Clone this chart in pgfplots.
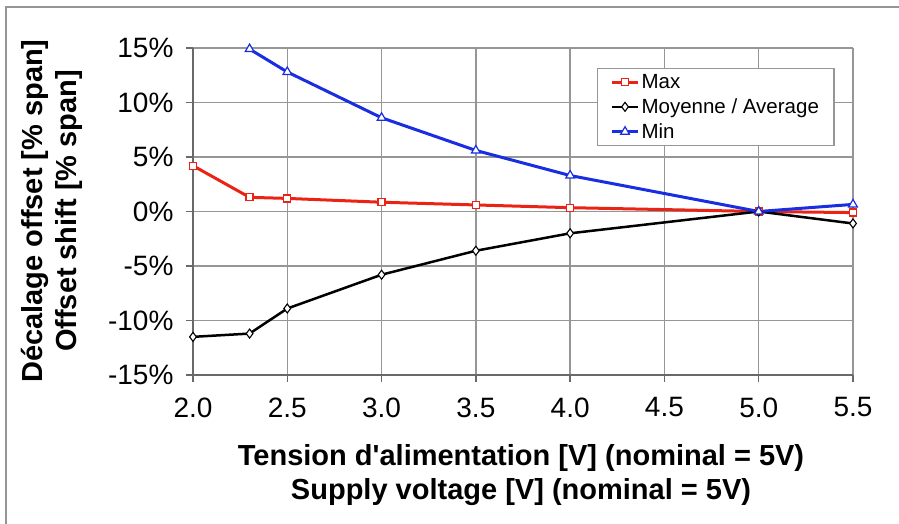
\documentclass[border=0pt]{standalone}
\usepackage{fontspec}
\setmainfont{Liberation Sans}
\usepackage{pgfplots}
\pgfplotsset{compat=1.18}

\definecolor{cmax}{RGB}{235,35,20}
\definecolor{cmin}{RGB}{25,45,225}
\definecolor{gridc}{RGB}{150,150,150}
\definecolor{axc}{RGB}{105,105,105}

\begin{document}
\begin{tikzpicture}[x=1pt,y=1pt]
\path[use as bounding box] (0,0) rectangle (899,524);
% outer chart frame (cut at right and bottom)
\draw[gridc, line width=1.8pt] (6,0) -- (6,517) -- (899,517);

\begin{axis}[
  at={(193pt,149pt)}, anchor=south west, scale only axis,
  width=660pt, height=327pt,
  xmin=2, xmax=5.5, ymin=-15, ymax=15,
  xtick={2,2.5,3,3.5,4,4.5,5,5.5},
  ytick={-15,-10,-5,0,5,10,15},
  axis lines=left, axis line style={-, axc, line width=1.5pt},
  grid=major, grid style={gridc, line width=1.4pt},
  tick align=outside, major tick length=7pt,
  tick style={axc, line width=1.3pt},
  /pgf/number format/assume math mode=true,
  xticklabel={\pgfmathprintnumber[fixed,fixed zerofill,precision=1]{\tick}},
  yticklabel={\pgfmathprintnumber{\tick}\%},
  tick label style={font=\fontsize{28}{30}\selectfont},
  xticklabel style={yshift=-12pt},
  yticklabel style={xshift=-9pt},
  clip=false,
  legend style={at={(0.612,0.939)}, anchor=north west, draw=gridc,
    line width=1.2pt, font=\fontsize{20.5}{22}\selectfont,
    inner xsep=13pt, inner ysep=4pt, row sep=4.5pt, cells={anchor=west}},
  legend image code/.code={\draw[mark repeat=2,mark phase=2,#1]
    plot coordinates {(0pt,0pt)(13pt,0pt)(26pt,0pt)};},
]
%% Max
\addplot[cmax, line width=3pt, mark=square*, mark size=3.5pt,
  mark options={fill=white, draw=cmax, line width=1.2pt, solid}]
  coordinates{(2.0,4.2)(2.3,1.3)(2.5,1.2)(3.0,0.85)(3.5,0.6)(4.0,0.35)(5.0,0.0)(5.5,-0.1)};
\addlegendentry{Max}
%% Moyenne / Average
\addplot[black, line width=2.5pt, mark=diamond*, mark size=4.5pt,
  mark options={fill=white, draw=black, line width=1.1pt, solid}]
  coordinates{(2.0,-11.5)(2.3,-11.2)(2.5,-8.9)(3.0,-5.8)(3.5,-3.6)(4.0,-2.0)(5.0,0.0)(5.5,-1.1)};
\addlegendentry{Moyenne / Average}
%% Min
\addplot[cmin, line width=3pt, mark=triangle*, mark size=5pt,
  mark options={fill=white, draw=cmin, line width=1.2pt, solid}]
  coordinates{(2.3,14.9)(2.5,12.8)(3.0,8.6)(3.5,5.6)(4.0,3.3)(5.0,0.0)(5.5,0.65)};
\addlegendentry{Min}
\end{axis}

\node[rotate=90, align=center, font=\bfseries\fontsize{29}{34}\selectfont]
  at (52,313) {Décalage offset [\% span]\\Offset shift [\% span]};
\node[align=center, font=\bfseries\fontsize{29}{34}\selectfont]
  at (521,49) {Tension d\textquotesingle alimentation [V] (nominal = 5V)\\Supply voltage [V] (nominal = 5V)};
\end{tikzpicture}
\end{document}
